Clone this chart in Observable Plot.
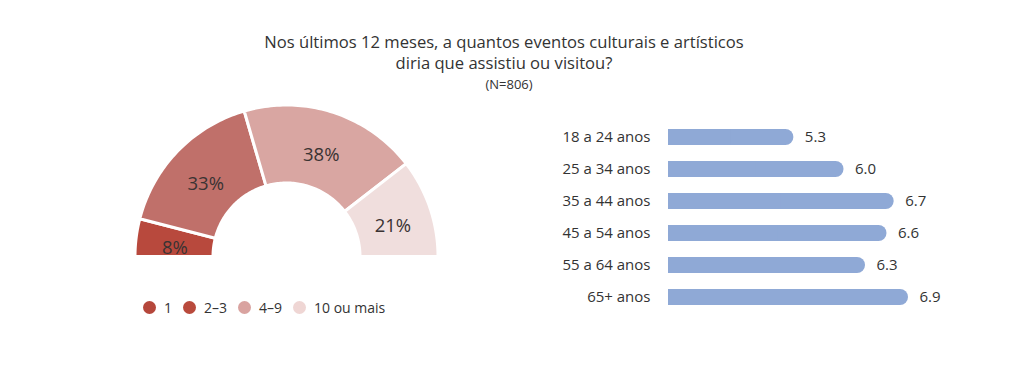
<!DOCTYPE html>
<html>
<head>
<meta charset="utf-8">
<script src="https://cdn.jsdelivr.net/npm/d3@7"></script>
<script src="https://cdn.jsdelivr.net/npm/@observablehq/plot@0.6"></script>
<style>
  html, body { margin: 0; padding: 0; background: #fff; }
  #wrap { position: relative; width: 1024px; height: 380px; overflow: hidden; font-family: "Open Sans", "Noto Sans", sans-serif; color: #333; }
  #title { position: absolute; left: 254px; width: 500px; top: 31px; text-align: center; font-size: 16.6px; line-height: 21px; }
  #sub { position: absolute; left: 259px; width: 500px; top: 75px; text-align: center; font-size: 13px; }
  #donut { position: absolute; left: 116px; top: 96px; }
  #bars { position: absolute; left: 540px; top: 115px; }
  #legend { position: absolute; left: 143px; top: 298px; display: flex; align-items: center; font-size: 14px; }
  #legend .item { display: flex; align-items: center; margin-right: 11px; }
  #legend .sw { width: 13px; height: 13px; border-radius: 50%; margin-right: 8px; }
</style>
</head>
<body>
<div id="wrap">
  <div id="title"></div>
  <div id="sub"></div>
  <div id="donut"></div>
  <div id="legend"></div>
  <div id="bars"></div>
</div>
<script>
// ---- data ----
const titleLines = ["Nos últimos 12 meses, a quantos eventos culturais e artísticos", "diria que assistiu ou visitou?"];
const subtitle = "(N=806)";

const eventCategories = ["1", "2–3", "4–9", "10 ou mais"];
const eventShares = [8, 33, 38, 21];
const segmentColors = ["#b8493d", "#c0706a", "#d9a6a2", "#f0dedd"];
const legendColors = ["#b5473b", "#b94a3c", "#d9a3a0", "#efd6d4"];

const ageGroups = ["18 a 24 anos", "25 a 34 anos", "35 a 44 anos", "45 a 54 anos", "55 a 64 anos", "65+ anos"];
const avgEvents = [5.3, 6.0, 6.7, 6.6, 6.3, 6.9];
const barColor = "#8fa9d6";
const barStart = 3.55;

const FONT = "'Open Sans', 'Noto Sans', sans-serif";

// ---- title ----
document.getElementById("title").innerHTML = titleLines.join("<br>");
document.getElementById("sub").textContent = subtitle;

// ---- donut (half) ----
const total = d3.sum(eventShares);
const inner = 0.49, outer = 1.01;
let acc = 0;
const slices = eventCategories.map((c, i) => {
  const a0 = Math.PI - (acc / total) * Math.PI;
  acc += eventShares[i];
  const a1 = Math.PI - (acc / total) * Math.PI;
  return {cat: c, share: eventShares[i], a0, a1};
});
const polyPts = [];
for (const s of slices) {
  const n = 60;
  for (let k = 0; k <= n; k++) {
    const a = s.a0 + (s.a1 - s.a0) * k / n;
    polyPts.push({cat: s.cat, x: outer * Math.cos(a), y: outer * Math.sin(a)});
  }
  for (let k = n; k >= 0; k--) {
    const a = s.a0 + (s.a1 - s.a0) * k / n;
    polyPts.push({cat: s.cat, x: inner * Math.cos(a), y: inner * Math.sin(a)});
  }
}
const labelPts = slices.map(s => {
  const m = (s.a0 + s.a1) / 2, r = 0.75;
  return {cat: s.cat, x: r * Math.cos(m), y: r * Math.sin(m), t: s.share + "%"};
});

const donut = Plot.plot({
  width: 340, height: 182,
  marginLeft: 20, marginRight: 20, marginTop: 10, marginBottom: 22,
  x: {domain: [-1, 1], axis: null},
  y: {domain: [0, 1], axis: null},
  color: {domain: eventCategories, range: segmentColors},
  style: {fontFamily: FONT, background: "transparent", overflow: "visible"},
  marks: [
    Plot.line(polyPts, {x: "x", y: "y", z: "cat", fill: "cat", stroke: "white", strokeWidth: 3, curve: "linear-closed"}),
    Plot.text(labelPts, {x: "x", y: "y", text: "t", fontSize: 18.5, dy: 6, fill: "#3a3333"})
  ]
});
document.getElementById("donut").appendChild(donut);

// ---- legend ----
const leg = document.getElementById("legend");
eventCategories.forEach((c, i) => {
  const it = document.createElement("div");
  it.className = "item";
  it.innerHTML = `<span class="sw" style="background:${legendColors[i]}"></span><span>${c}</span>`;
  leg.appendChild(it);
});

// ---- bars ----
const rows = ageGroups.map((g, i) => ({g, v: avgEvents[i]}));
const bars = Plot.plot({
  width: 420, height: 200,
  marginLeft: 128, marginRight: 52, marginTop: 0, marginBottom: 0,
  x: {domain: [barStart, 6.9], axis: null},
  y: {domain: ageGroups, range: [3.6, 200.4], paddingInner: 0.51, paddingOuter: 0.255, label: null},
  style: {fontFamily: FONT, background: "transparent", color: "#333", overflow: "visible"},
  marks: [
    Plot.barX(rows, {x1: barStart, x2: "v", y: "g", fill: barColor, rx: 8}),
    Plot.barX(rows, {x1: barStart, x2: d => (barStart + d.v) / 2, y: "g", fill: barColor}),
    Plot.text(rows, {x: "v", y: "g", text: d => d.v.toFixed(1), textAnchor: "start", dx: 11, fontSize: 15, fill: "#333"}),
    Plot.axisY({tickSize: 0, tickPadding: 18, fontSize: 15, label: null})
  ]
});
document.getElementById("bars").appendChild(bars);
</script>
</body>
</html>
